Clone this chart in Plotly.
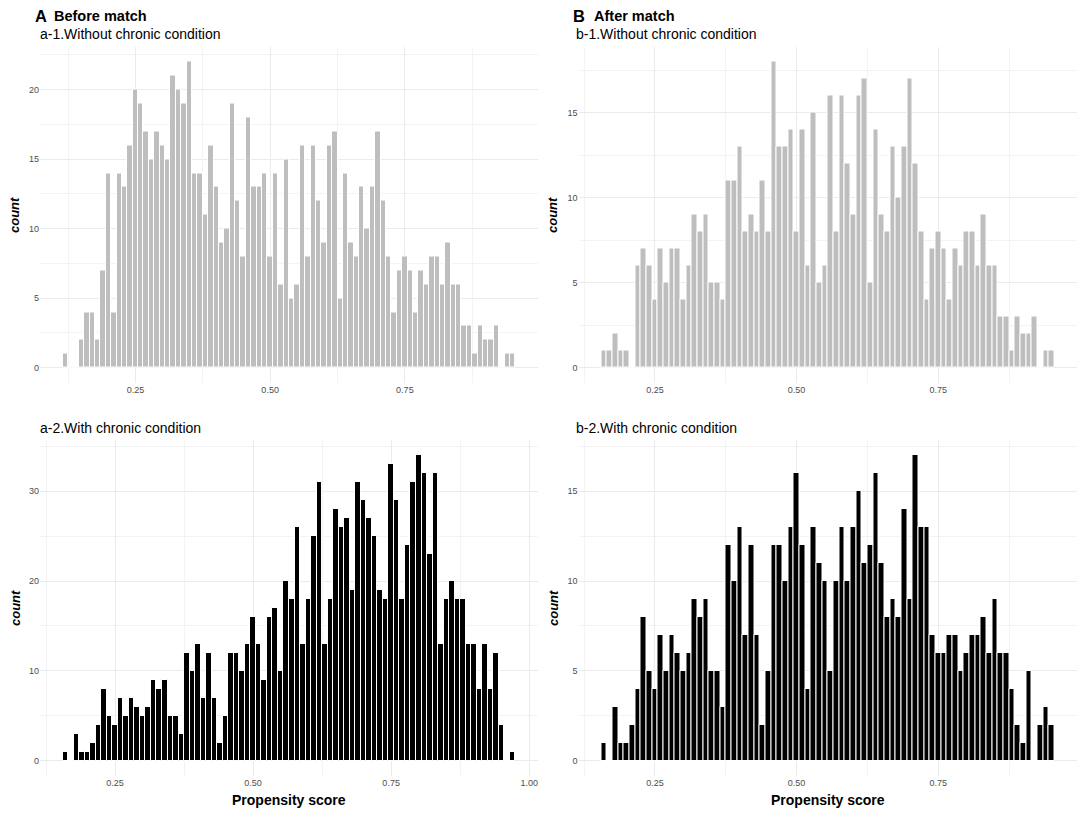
import plotly.graph_objs as go
from plotly.subplots import make_subplots

# counts per 0.01 bin
a1_start = 0.12
a1_counts = [1, 0, 0, 2, 4, 4, 2, 7, 14, 4,
             14, 13, 16, 20, 19, 17, 15, 17, 16, 15,
             21, 20, 19, 22, 14, 14, 11, 16, 13, 9,
             10, 19, 12, 8, 18, 13, 13, 14, 8, 14,
             6, 15, 5, 6, 16, 8, 16, 12, 9, 16,
             17, 5, 14, 9, 8, 13, 10, 13, 17, 12,
             8, 4, 7, 8, 7, 4, 7, 6, 8, 8,
             6, 9, 6, 6, 3, 3, 1, 3, 2, 2,
             3, 0, 1, 1]

b1_start = 0.16
b1_counts = [1, 1, 2, 1, 1, 0, 6, 7, 6, 4,
             7, 5, 7, 7, 4, 6, 9, 8, 9, 5,
             5, 4, 11, 11, 13, 8, 9, 8, 11, 8,
             18, 13, 13, 14, 8, 14, 6, 15, 5, 6,
             16, 8, 16, 12, 9, 16, 17, 5, 14, 9,
             8, 13, 10, 13, 17, 12, 8, 4, 7, 8,
             7, 4, 7, 6, 8, 8, 6, 9, 6, 6,
             3, 3, 1, 3, 2, 2, 3, 0, 1, 1]

a2_start = 0.16
a2_counts = [1, 0, 3, 1, 1, 2, 4, 8, 5, 4,
             7, 5, 7, 6, 5, 6, 9, 8, 9, 5,
             5, 3, 12, 10, 13, 7, 12, 7, 2, 5,
             12, 12, 10, 13, 16, 13, 9, 16, 17, 10,
             20, 18, 26, 13, 18, 25, 31, 13, 18, 28,
             26, 27, 19, 31, 29, 27, 25, 19, 18, 33,
             29, 18, 24, 31, 34, 32, 23, 32, 13, 18,
             20, 18, 18, 13, 13, 8, 13, 8, 12, 4,
             0, 1]

b2_start = 0.16
b2_counts = [1, 0, 3, 1, 1, 2, 4, 8, 5, 4,
             7, 5, 7, 6, 5, 6, 9, 8, 9, 5,
             5, 3, 12, 10, 13, 7, 12, 7, 2, 5,
             12, 12, 10, 13, 16, 12, 4, 13, 11, 10,
             5, 10, 13, 10, 13, 15, 11, 12, 16, 11,
             8, 9, 8, 14, 9, 17, 13, 13, 7, 6,
             6, 7, 7, 5, 6, 7, 7, 8, 6, 9,
             6, 6, 4, 2, 1, 5, 0, 2, 3, 2]

bin_width = 0.01
W, H = 1084, 818
font = "Liberation Sans, Arial, sans-serif"

def centers(start, counts):
    return [round(start + bin_width * i, 2) for i in range(len(counts))]

def px(x):
    return x / W

def py(y):
    return 1 - y / H

fig = make_subplots(rows=2, cols=2)

panels = [(a1_start, a1_counts, "#bebebe", 1, 1),
          (b1_start, b1_counts, "#bebebe", 1, 2),
          (a2_start, a2_counts, "black", 2, 1),
          (b2_start, b2_counts, "black", 2, 2)]
for start, counts, color, r, c in panels:
    fig.add_trace(go.Bar(x=centers(start, counts), y=counts, width=bin_width,
                         marker=dict(color=color, line=dict(color="white", width=1)),
                         showlegend=False), row=r, col=c)

grid = "#ebebeb"
minor_grid = "#f3f3f3"
tickfont = dict(family=font, size=9, color="#4d4d4d")

xdom_left = [px(40), px(538)]
xdom_right = [px(578.5), px(1077)]
ydom_top = [py(383), py(46.5)]
ydom_bot = [py(776), py(440)]

xticks = [0.25, 0.50, 0.75]
xticks_a2 = [0.25, 0.50, 0.75, 1.00]
xminor = [0.125, 0.375, 0.625, 0.875]

axis_common = dict(showline=False, zeroline=False, ticks="", tickfont=tickfont,
                   gridcolor=grid, gridwidth=1)

xs = [("xaxis", xdom_left, [0.073, 0.997], xticks, "y"),
      ("xaxis2", xdom_right, [0.115, 0.995], xticks, "y2"),
      ("xaxis3", xdom_left, [0.114, 1.016], xticks_a2, "y3"),
      ("xaxis4", xdom_right, [0.115, 0.995], xticks, "y4")]
for name, dom, rng, tv, anchor in xs:
    fig.layout[name].update(domain=dom, range=rng, tickvals=tv,
                            ticktext=["%.2f" % t for t in tv], anchor=anchor,
                            minor=dict(tickvals=xminor, showgrid=True,
                                       gridcolor=minor_grid, gridwidth=0.8),
                            **axis_common)

ys = [("yaxis", ydom_top, [-1.1, 23.1], [0, 5, 10, 15, 20], [2.5, 7.5, 12.5, 17.5, 22.5], "x"),
      ("yaxis2", ydom_top, [-0.9, 18.9], [0, 5, 10, 15], [2.5, 7.5, 12.5, 17.5], "x2"),
      ("yaxis3", ydom_bot, [-1.7, 35.7], [0, 10, 20, 30], [5, 15, 25, 35], "x3"),
      ("yaxis4", ydom_bot, [-0.85, 17.85], [0, 5, 10, 15], [2.5, 7.5, 12.5, 17.5], "x4")]
for name, dom, rng, tv, mv, anchor in ys:
    fig.layout[name].update(domain=dom, range=rng, tickvals=tv, anchor=anchor,
                            minor=dict(tickvals=mv, showgrid=True,
                                       gridcolor=minor_grid, gridwidth=0.8),
                            **axis_common)

def label(text, x, y, size, **kw):
    fig.add_annotation(text=text, x=px(x), y=py(y), xref="paper", yref="paper",
                       showarrow=False, xanchor=kw.pop("xanchor", "left"),
                       yanchor="middle", font=dict(family=font, size=size, color="black"), **kw)

label("<b>A</b>", 33, 16, 16.5)
label("<b>Before match</b>", 52, 16, 14.5)
label("<b>B</b>", 571, 16, 16.5)
label("<b>After match</b>", 592, 16, 14.5)
label("a-1.Without chronic condition", 38, 34, 14)
label("b-1.Without chronic condition", 574, 34, 14)
label("a-2.With chronic condition", 38, 428, 14)
label("b-2.With chronic condition", 574, 428, 14)
label("<b>Propensity score</b>", 289, 800, 14, xanchor="center")
label("<b>Propensity score</b>", 828, 800, 14, xanchor="center")
for x, y in [(15, 215), (553, 215), (15, 608), (553, 608)]:
    label("<b><i>count</i></b>", x, y, 13, xanchor="center", textangle=-90)

fig.update_layout(width=W, height=H, margin=dict(l=0, r=0, t=0, b=0),
                  plot_bgcolor="white", paper_bgcolor="white", bargap=0,
                  font=dict(family=font))

# drop the default page margin so the figure sits at the window's corner
fig.write_html("out.html", config={"displayModeBar": False},
               post_script="document.body.style.margin='0';document.body.style.overflow='hidden';")
